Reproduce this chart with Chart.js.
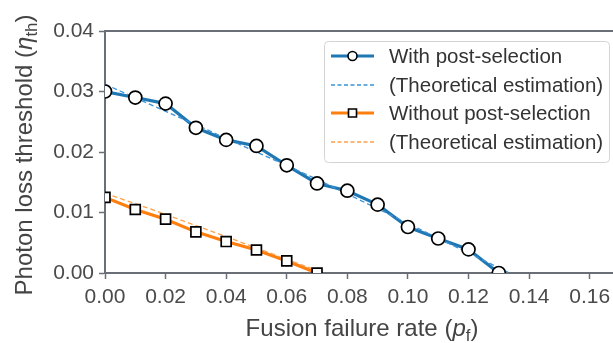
<!DOCTYPE html>
<html>
<head>
<meta charset="utf-8">
<script src="https://cdn.jsdelivr.net/npm/chart.js@4.4.1/dist/chart.umd.min.js"></script>
<style>
  html, body { margin: 0; padding: 0; background: #fff; }
  #wrap { width: 613px; height: 343px; }
</style>
</head>
<body>
<div id="wrap"><canvas id="chart"></canvas></div>
<script>
// fusion failure rate p_f and photon loss thresholds
const failRate = [0.00, 0.01, 0.02, 0.03, 0.04, 0.05, 0.06, 0.07, 0.08, 0.09, 0.10, 0.11, 0.12, 0.13];
const withPost = [0.0300, 0.0290, 0.0280, 0.0240, 0.0220, 0.0210, 0.0178, 0.0148, 0.0136, 0.0113, 0.0076, 0.0057, 0.0039, 0.0000];

const failRateNoPost = [0.00, 0.01, 0.02, 0.03, 0.04, 0.05, 0.06, 0.07];
const withoutPost = [0.0125, 0.0105, 0.0089, 0.0068, 0.0052, 0.0038, 0.0020, 0.0000];

// theoretical estimates
const theoryWithX = [0.000, 0.030, 0.070, 0.100, 0.1335];
const theoryWithY = [0.0312, 0.0245, 0.0155, 0.0082, 0.0000];
const theoryWithoutX = [0.000, 0.020, 0.040, 0.070];
const theoryWithoutY = [0.0132, 0.0097, 0.0060, 0.0004];

const xTicks = [0.00, 0.02, 0.04, 0.06, 0.08, 0.10, 0.12, 0.14, 0.16];
const yTicks = [0.00, 0.01, 0.02, 0.03, 0.04];

const BLUE = '#1f77b4', BLUE_LIGHT = '#3a92d8';
const ORANGE = '#ff7f0e', ORANGE_LIGHT = '#ffa04a';
const SPINE = '#6a6e76';
const FONT = '"Liberation Sans", Arial, sans-serif';

const pts = (xs, ys) => xs.map((x, i) => ({ x: x, y: ys[i] }));

// draws "text" runs, some italic or subscripted, starting at (x, y) on the baseline
function richText(ctx, runs, size, x, y) {
  let cx = x;
  runs.forEach(r => {
    const s = r.sub ? size * 0.7 : size;
    ctx.font = (r.italic ? 'italic ' : '') + s + 'px ' + FONT;
    ctx.fillText(r.t, cx, y + (r.sub ? size * 0.22 : 0));
    cx += ctx.measureText(r.t).width;
  });
}
function richWidth(ctx, runs, size) {
  let w = 0;
  runs.forEach(r => {
    const s = r.sub ? size * 0.7 : size;
    ctx.font = (r.italic ? 'italic ' : '') + s + 'px ' + FONT;
    w += ctx.measureText(r.t).width;
  });
  return w;
}

const yTitle = [{ t: 'Photon loss threshold (' }, { t: 'η', italic: true }, { t: 'th', sub: true }, { t: ')' }];
const xTitle = [{ t: 'Fusion failure rate (' }, { t: 'p', italic: true }, { t: 'f', sub: true }, { t: ')' }];

const legendRows = [
  { label: 'With post-selection', color: BLUE, width: 3, dash: [], marker: 'circle' },
  { label: '(Theoretical estimation)', color: BLUE_LIGHT, width: 1.3, dash: [4, 2.5] },
  { label: 'Without post-selection', color: ORANGE, width: 3, dash: [], marker: 'rect' },
  { label: '(Theoretical estimation)', color: ORANGE_LIGHT, width: 1.3, dash: [4, 2.5] }
];

const decorations = {
  id: 'decorations',
  afterDraw(chart) {
    const ctx = chart.ctx, a = chart.chartArea;
    ctx.save();
    // top spine
    ctx.strokeStyle = SPINE;
    ctx.lineWidth = 2;
    ctx.beginPath();
    ctx.moveTo(a.left - 1, a.top);
    ctx.lineTo(a.right, a.top);
    ctx.stroke();

    // axis titles
    ctx.fillStyle = '#444';
    ctx.textBaseline = 'alphabetic';
    ctx.textAlign = 'left';
    const ts = 24;
    const xw = richWidth(ctx, xTitle, ts);
    richText(ctx, xTitle, ts, 362 - xw / 2, 336);
    const yw = richWidth(ctx, yTitle, ts);
    ctx.save();
    ctx.translate(32, 155);
    ctx.rotate(-Math.PI / 2);
    richText(ctx, yTitle, ts, -yw / 2, 0);
    ctx.restore();

    // legend
    const bx = 324, by = 41, bw = 285, bh = 121, r = 4;
    ctx.fillStyle = 'rgba(255,255,255,0.85)';
    ctx.strokeStyle = '#d4d4d4';
    ctx.lineWidth = 1;
    ctx.beginPath();
    ctx.roundRect(bx + 0.5, by + 0.5, bw, bh, r);
    ctx.fill();
    ctx.stroke();
    const rowY = [56, 85, 113, 142];
    legendRows.forEach((row, i) => {
      const y = rowY[i];
      ctx.strokeStyle = row.color;
      ctx.lineWidth = row.width;
      ctx.setLineDash(row.dash);
      ctx.beginPath();
      ctx.moveTo(331, y);
      ctx.lineTo(374, y);
      ctx.stroke();
      ctx.setLineDash([]);
      if (row.marker) {
        ctx.fillStyle = '#fff';
        ctx.strokeStyle = '#000';
        ctx.lineWidth = 1.6;
        ctx.beginPath();
        if (row.marker === 'circle') ctx.arc(352.5, y, 4.5, 0, Math.PI * 2);
        else ctx.rect(348.5, y - 4, 8, 8);
        ctx.fill();
        ctx.stroke();
      }
      ctx.fillStyle = '#333';
      ctx.font = '20.5px ' + FONT;
      ctx.textBaseline = 'middle';
      ctx.fillText(row.label, 389, y + 1);
    });
    ctx.restore();
  }
};

const markerStyle = {
  showLine: false,
  backgroundColor: '#fff',
  borderColor: '#000',
  pointBorderWidth: 1.7,
  clip: 0
};

new Chart(document.getElementById('chart'), {
  type: 'line',
  data: {
    datasets: [
      Object.assign({ data: pts(failRate, withPost), pointStyle: 'circle', pointRadius: 6.5,
        pointBackgroundColor: '#fff', pointBorderColor: '#000' }, markerStyle),
      Object.assign({ data: pts(failRateNoPost, withoutPost), pointStyle: 'rect', pointRadius: 7,
        pointBackgroundColor: '#fff', pointBorderColor: '#000' }, markerStyle),
      { data: pts(theoryWithX, theoryWithY), borderColor: BLUE_LIGHT, borderWidth: 1.3,
        borderDash: [5, 3], pointRadius: 0, clip: 0 },
      { data: pts(theoryWithoutX, theoryWithoutY), borderColor: ORANGE_LIGHT, borderWidth: 1.3,
        borderDash: [5, 3], pointRadius: 0, clip: 0 },
      { data: pts(failRate, withPost), borderColor: BLUE, borderWidth: 3.2, pointRadius: 0, clip: 0 },
      { data: pts(failRateNoPost, withoutPost), borderColor: ORANGE, borderWidth: 3.2, pointRadius: 0, clip: 0 }
    ]
  },
  options: {
    responsive: true,
    maintainAspectRatio: false,
    animation: false,
    devicePixelRatio: 1,
    layout: { autoPadding: false, padding: { top: 31, right: 0, left: 0, bottom: 0 } },
    plugins: { legend: { display: false }, tooltip: { enabled: false } },
    scales: {
      x: {
        type: 'linear',
        min: 0,
        max: 0.1677,
        afterFit(s) { s.height = 70; s.paddingLeft = 0; s.paddingRight = 0; },
        afterBuildTicks(s) { s.ticks = xTicks.map(v => ({ value: v })); },
        ticks: {
          color: '#4a4a4a',
          font: { family: FONT, size: 21 },
          padding: 6,
          maxRotation: 0,
          callback: v => v.toFixed(2)
        },
        grid: { drawOnChartArea: false, drawTicks: true, tickLength: 6, tickWidth: 1.5, color: SPINE },
        border: { display: true, color: SPINE, width: 2 }
      },
      y: {
        type: 'linear',
        min: 0,
        max: 0.04,
        afterFit(s) { s.width = 105; s.paddingTop = 0; s.paddingBottom = 0; },
        afterBuildTicks(s) { s.ticks = yTicks.map(v => ({ value: v })); },
        ticks: {
          color: '#4a4a4a',
          font: { family: FONT, size: 21 },
          padding: 5,
          callback: v => v.toFixed(2)
        },
        grid: { drawOnChartArea: false, drawTicks: true, tickLength: 6, tickWidth: 1.5, color: SPINE },
        border: { display: true, color: SPINE, width: 2 }
      }
    }
  },
  plugins: [decorations]
});
</script>
</body>
</html>
